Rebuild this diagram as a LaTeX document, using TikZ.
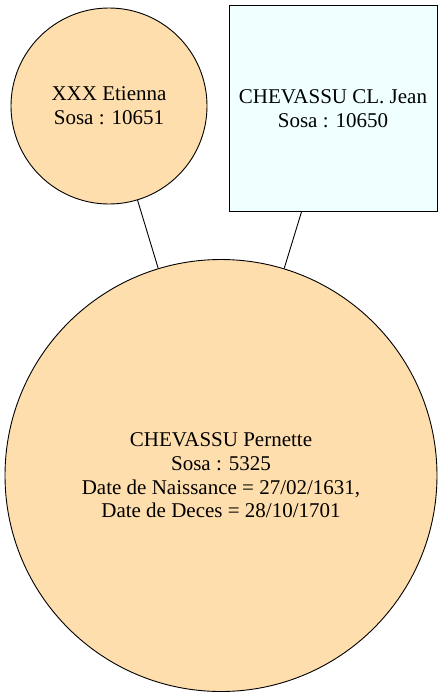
\documentclass[tikz,border=0pt]{standalone}
\usepackage{fontspec}
\setmainfont{Liberation Serif}
\definecolor{navajo}{HTML}{FFDEAD}
\definecolor{azurec}{HTML}{F0FFFF}
\tikzset{
  person/.style={draw=black, line width=0.9pt, inner sep=0pt, align=center,
    font=\fontsize{21}{23.7}\selectfont},
  female/.style={person, circle, fill=navajo},
  male/.style={person, rectangle, fill=azurec},
  link/.style={draw=black, line width=0.9pt}
}
\begin{document}
\begin{tikzpicture}[x=1pt,y=-1pt]
\useasboundingbox (0,0) rectangle (442,697);
\node[female, minimum size=196pt] (etienna) at (109,106) {XXX Etienna\\Sosa : 10651};
\node[male, minimum width=208pt, minimum height=206pt] (jean) at (333,108.5) {CHEVASSU CL. Jean\\Sosa : 10650};
\node[female, minimum size=432pt] (pernette) at (221,475.5) {CHEVASSU Pernette\\Sosa : 5325\\Date de Naissance = 27/02/1631,\\Date de Deces = 28/10/1701};
\draw[link] (etienna) -- (pernette);
\draw[link] (jean) -- (pernette);
\end{tikzpicture}
\end{document}
